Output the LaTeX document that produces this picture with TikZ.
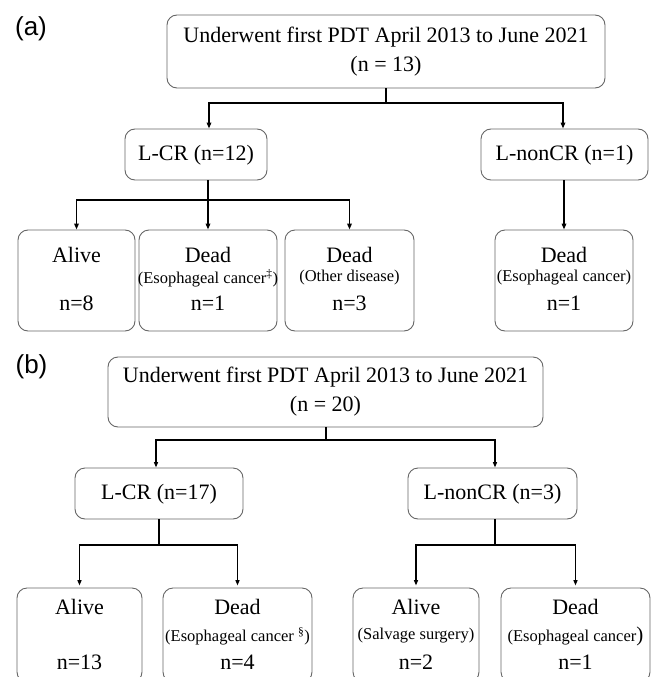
\documentclass[tikz,border=0pt]{standalone}
\usepackage{fontspec}
\setmainfont{Liberation Serif}
\newfontfamily\labfont{Liberation Sans}
\usetikzlibrary{arrows.meta,calc}
\begin{document}
\begin{tikzpicture}[x=1pt,y=-1pt,
 bx/.style={draw=black!60, line width=0.9pt, rounded corners=10pt, inner sep=0pt},
 big/.style={font=\fontsize{22}{26}\selectfont, inner sep=0pt},
 small/.style={font=\fontsize{16.5}{18}\selectfont, inner sep=0pt},
 lab/.style={font=\labfont\fontsize{26}{29}\selectfont, inner sep=0pt},
 conn/.style={line width=1.7pt},
 arr/.style={line width=1.7pt, -{Triangle[length=6pt,width=4.5pt]}},
 connb/.style={line width=1.4pt},
 arrb/.style={line width=1.4pt, -{Triangle[length=5.5pt,width=4pt]}},
]
\useasboundingbox (0,0) rectangle (653,677);
\clip (0,0) rectangle (653,677);
% ---------------- (a) ----------------
\node[lab] (la) at (31,29) {(a)};
\node[bx, minimum width=438pt, minimum height=73pt] (topA) at (386,51.5) {};
\node[big] (topA1) at (386,37) {Underwent first PDT April 2013 to June 2021};
\node[big] (topA2) at (386,66) {(n = 13)};
\node[bx, minimum width=142pt, minimum height=51pt] (lcrA) at (196,154.5) {};
\node[big] (lcrAt) at (196,155) {L-CR (n=12)};
\node[bx, minimum width=167pt, minimum height=51pt] (ncrA) at (564.5,154.5) {};
\node[big] (ncrAt) at (564.5,155) {L-nonCR (n=1)};
\node[bx, minimum width=117pt, minimum height=101pt] (a1) at (76.5,280.5) {};
\node[bx, minimum width=138pt, minimum height=101pt] (a2) at (208,280.5) {};
\node[bx, minimum width=129pt, minimum height=101pt] (a3) at (349.5,280.5) {};
\node[bx, minimum width=138pt, minimum height=101pt] (a4) at (564,280.5) {};
\node[big] (a1t) at (76.5,255) {Alive};
\node[big] (a1n) at (76.5,303) {n=8};
\node[big] (a2t) at (208,255) {Dead};
\node[small] (a2p) at (208,278) {(Esophageal cancer\textsuperscript{‡})};
\node[big] (a2n) at (208,303) {n=1};
\node[big] (a3t) at (349.5,255) {Dead};
\node[small] (a3p) at (349.5,278) {(Other disease)};
\node[big] (a3n) at (349.5,303) {n=3};
\node[big] (a4t) at (564,255) {Dead};
\node[small] (a4p) at (564,278) {(Esophageal cancer)};
\node[big] (a4n) at (564,303) {n=1};
\coordinate (jA) at (386,103);
\draw[conn] (topA.south) -- (jA);
\draw[arr] (jA) -| ([xshift=13pt]lcrA.north);
\draw[arr] (jA) -| ([xshift=-1.5pt]ncrA.north);
\coordinate (kA) at (208,200);
\draw[conn] (lcrA.south -| kA) -- (kA);
\draw[arr] (kA) -| (a1.north);
\draw[arr] (kA) -- (a2.north);
\draw[arr] (kA) -| (a3.north);
\draw[arr] (ncrA.south -| a4.north) -- (a4.north);
% ---------------- (b) ----------------
\node[lab] (lb) at (31.5,367) {(b)};
\node[bx, minimum width=435pt, minimum height=70pt] (topB) at (325.5,392) {};
\node[big] (topB1) at (325.5,377) {Underwent first PDT April 2013 to June 2021};
\node[big] (topB2) at (325.5,406) {(n = 20)};
\node[bx, minimum width=168pt, minimum height=51pt] (lcrB) at (159,493.5) {};
\node[big] (lcrBt) at (159,494) {L-CR (n=17)};
\node[bx, minimum width=169pt, minimum height=51pt] (ncrB) at (492.5,493.5) {};
\node[big] (ncrBt) at (492.5,494) {L-nonCR (n=3)};
\node[bx, minimum width=125pt, minimum height=94pt] (b1) at (79.5,635) {};
\node[bx, minimum width=149pt, minimum height=94pt] (b2) at (237.5,635) {};
\node[bx, minimum width=126pt, minimum height=94pt] (b3) at (416,635) {};
\node[bx, minimum width=149pt, minimum height=94pt] (b4) at (575.5,635) {};
\node[big] (b1t) at (79.5,607) {Alive};
\node[big] (b1n) at (79.5,662) {n=13};
\node[big] (b2t) at (237.5,607) {Dead};
\node[small] (b2p) at (237.5,636) {(Esophageal cancer \textsuperscript{§})};
\node[big] (b2n) at (237.5,662) {n=4};
\node[big] (b3t) at (416,607) {Alive};
\node[small] (b3p) at (416,636) {(Salvage surgery)};
\node[big] (b3n) at (416,662) {n=2};
\node[big] (b4t) at (575.5,607) {Dead};
\node[small] (b4p) at (575.5,636) {(Esophageal cancer{\fontsize{21}{21}\selectfont )}};
\node[big] (b4n) at (575.5,662) {n=1};
\coordinate (jB) at (326,440);
\draw[connb] (topB.south -| jB) -- (jB);
\draw[arrb] (jB) -| ([xshift=-3pt]lcrB.north);
\draw[arrb] (jB) -| ([xshift=2.5pt]ncrB.north);
\coordinate (kB) at (159,545);
\draw[connb] (lcrB.south) -- (kB);
\draw[arrb] (kB) -| ([yshift=2pt]b1.north);
\draw[arrb] (kB) -| ([yshift=2pt]b2.north);
\coordinate (mB) at (495,545);
\draw[connb] (ncrB.south -| mB) -- (mB);
\draw[arrb] (mB) -| ([yshift=2pt]b3.north);
\draw[arrb] (mB) -| ([yshift=2pt]b4.north);
\end{tikzpicture}
\end{document}
